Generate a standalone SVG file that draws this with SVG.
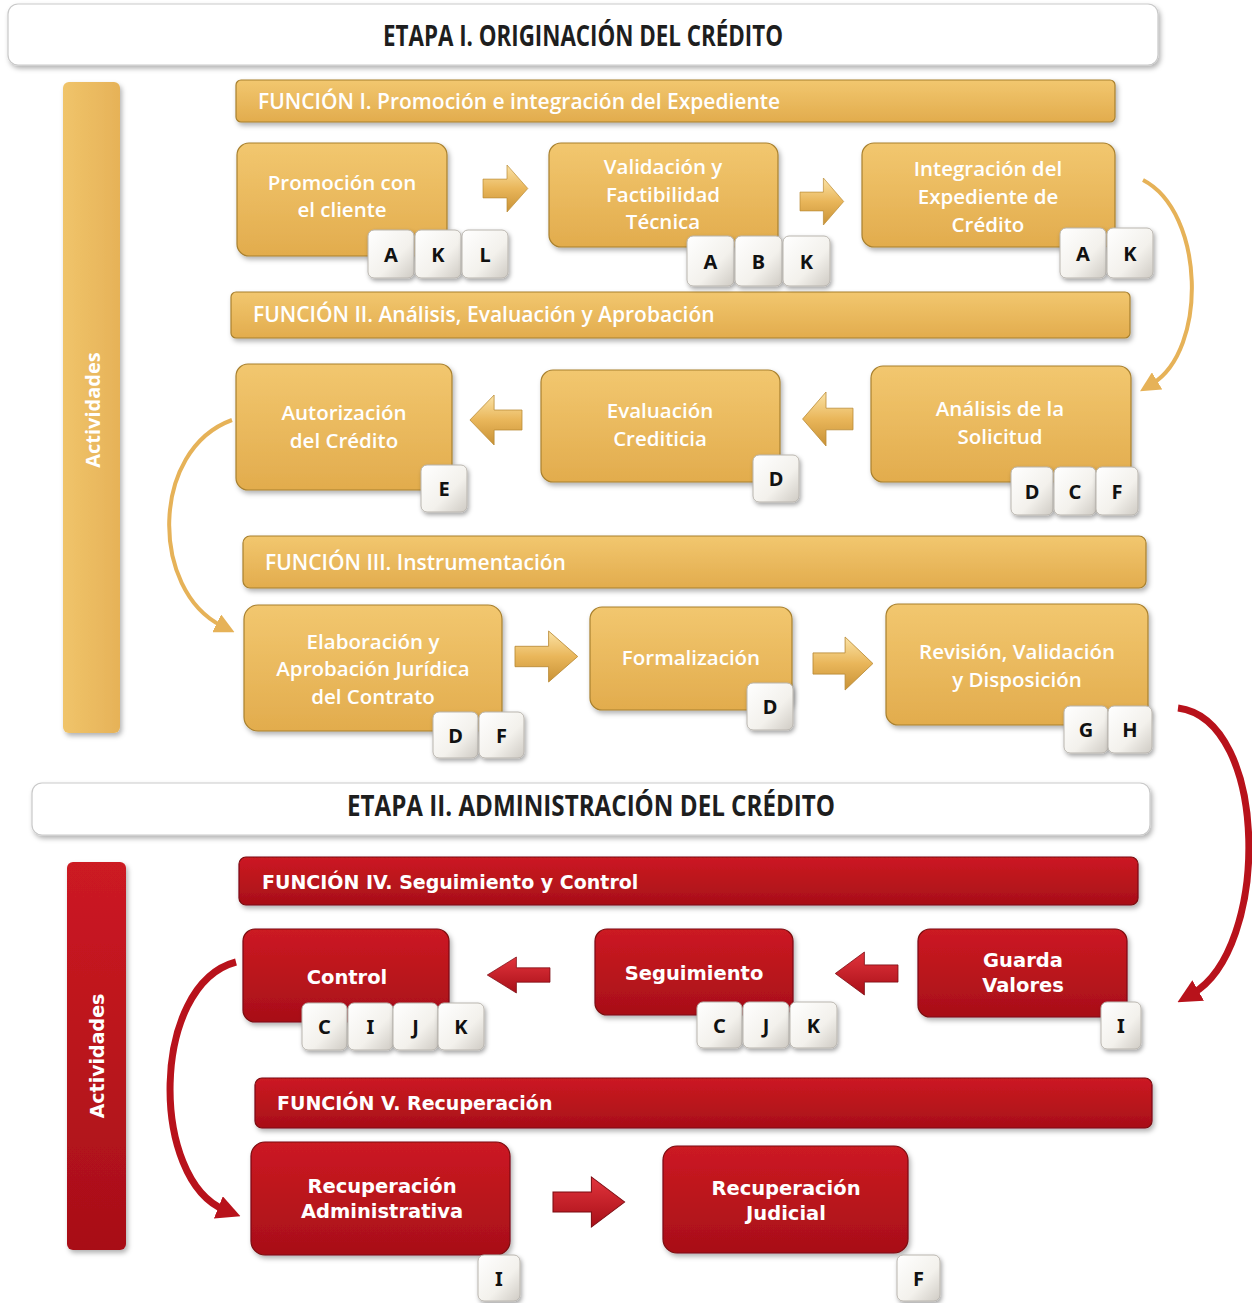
<svg xmlns="http://www.w3.org/2000/svg" width="1252" height="1303" viewBox="0 0 1252 1303">
<defs>
<linearGradient id="gold" x1="0" y1="0" x2="0" y2="1"><stop offset="0" stop-color="#F2C76F"/><stop offset="1" stop-color="#E2AC4D"/></linearGradient>
<linearGradient id="goldV" x1="0" y1="0" x2="1" y2="0"><stop offset="0" stop-color="#F0C46A"/><stop offset="1" stop-color="#E6B258"/></linearGradient>
<linearGradient id="red" x1="0" y1="0" x2="0" y2="1"><stop offset="0" stop-color="#CC1A22"/><stop offset="1" stop-color="#A80F18"/></linearGradient>
<linearGradient id="keyG" x1="0" y1="0" x2="1" y2="1"><stop offset="0" stop-color="#FFFFFF"/><stop offset="0.6" stop-color="#F3F1EC"/><stop offset="1" stop-color="#CFCBC4"/></linearGradient>
<linearGradient id="garr" x1="0" y1="0" x2="0" y2="1"><stop offset="0" stop-color="#FBE3A6"/><stop offset="0.5" stop-color="#E9B65A"/><stop offset="1" stop-color="#C99236"/></linearGradient>
<linearGradient id="rarr" x1="0" y1="0" x2="0" y2="1"><stop offset="0" stop-color="#E2343C"/><stop offset="1" stop-color="#A80F18"/></linearGradient>
<filter id="sh" x="-10%" y="-10%" width="130%" height="140%"><feDropShadow dx="2" dy="3" stdDeviation="2.5" flood-color="#000" flood-opacity="0.3"/></filter>
<filter id="ksh" x="-20%" y="-20%" width="150%" height="150%"><feDropShadow dx="1.5" dy="2.5" stdDeviation="2" flood-color="#000" flood-opacity="0.35"/></filter>
<path id="rarrow" d="M0,15 H30 V0 L56,25 L30,50 V35 H0 Z"/>
<marker id="mg" viewBox="0 0 10 10" refX="3" refY="5" markerWidth="5" markerHeight="5" orient="auto" markerUnits="strokeWidth"><path d="M0,0 L10,5 L0,10 Z" fill="#E6B258"/></marker>
<marker id="mr" viewBox="0 0 10 10" refX="3" refY="5" markerWidth="3.4" markerHeight="3.4" orient="auto" markerUnits="strokeWidth"><path d="M0,0 L10,5 L0,10 Z" fill="#B8121B"/></marker>
</defs>
<style>
.banner{fill:#FFFFFF;stroke:#C9C9C9;stroke-width:1.2}
.etapa{font-family:"Open Sans","Liberation Sans",sans-serif;font-weight:700;font-size:28px;fill:#1E1E1E;text-anchor:middle}
.gnode{fill:url(#gold);stroke:#A8802F;stroke-width:1.2}
.rnode{fill:url(#red);stroke:#7A0A10;stroke-width:1.2}
.gt{font-family:"Open Sans","Liberation Sans",sans-serif;font-weight:600;font-size:20.5px;fill:#FFFFFF;text-anchor:middle}
.rt{font-family:"DejaVu Sans","Noto Sans",sans-serif;font-weight:700;font-size:19.5px;fill:#FFFFFF;text-anchor:middle}
.gf{font-family:"Open Sans","Liberation Sans",sans-serif;font-weight:600;font-size:21px;fill:#FFFFFF}
.rf{font-family:"DejaVu Sans","Noto Sans",sans-serif;font-weight:700;font-size:19px;fill:#FFFFFF}
.key{fill:url(#keyG);stroke:#B9B5AE;stroke-width:1}
.kt{font-family:"Noto Sans","DejaVu Sans",sans-serif;font-weight:700;font-size:20px;fill:#111;text-anchor:middle}
.act{font-family:"Open Sans","Liberation Sans",sans-serif;font-weight:700;font-size:20px;fill:#FFFFFF;text-anchor:middle}
.ga{fill:url(#garr);stroke:#B98A35;stroke-width:0.8}
.ra{fill:url(#rarr);stroke:#7A0A10;stroke-width:0.8}
</style>

<!-- Banners -->
<g id="etapa1">
<rect class="banner" x="8" y="4" width="1150" height="61" rx="10" filter="url(#sh)"/>
<text class="etapa" x="583" y="46" textLength="400" lengthAdjust="spacingAndGlyphs">ETAPA I. ORIGINACIÓN DEL CRÉDITO</text>
</g>
<g id="etapa2">
<rect class="banner" x="32" y="783" width="1118" height="52" rx="10" filter="url(#sh)"/>
<text class="etapa" x="591" y="816" textLength="488" lengthAdjust="spacingAndGlyphs">ETAPA II. ADMINISTRACIÓN DEL CRÉDITO</text>
</g>

<!-- Actividades bars -->
<g id="act1">
<rect x="63" y="82" width="57" height="651" rx="6" fill="url(#goldV)" filter="url(#sh)"/>
<text class="act" transform="translate(100,410) rotate(-90)">Actividades</text>
</g>
<g id="act2">
<rect x="67" y="862" width="59" height="388" rx="6" fill="url(#red)" filter="url(#sh)"/>
<text class="act" style="font-family:'DejaVu Sans',sans-serif;font-size:19px" transform="translate(104,1056) rotate(-90)">Actividades</text>
</g>

<!-- Function bars -->
<g id="f1"><rect class="gnode" x="236" y="80" width="879" height="42" rx="5" filter="url(#sh)"/><text class="gf" x="258" y="109">FUNCIÓN I. Promoción e integración del Expediente</text></g>
<g id="f2"><rect class="gnode" x="231" y="292" width="899" height="46" rx="5" filter="url(#sh)"/><text class="gf" x="253" y="322">FUNCIÓN II. Análisis, Evaluación y Aprobación</text></g>
<g id="f3"><rect class="gnode" x="243" y="536" width="903" height="52" rx="7" filter="url(#sh)"/><text class="gf" x="265" y="570">FUNCIÓN III. Instrumentación</text></g>
<g id="f4"><rect class="rnode" x="239" y="857" width="899" height="48" rx="7" filter="url(#sh)"/><text class="rf" x="262" y="889">FUNCIÓN IV. Seguimiento y Control</text></g>
<g id="f5"><rect class="rnode" x="255" y="1078" width="897" height="50" rx="7" filter="url(#sh)"/><text class="rf" x="277" y="1110">FUNCIÓN V. Recuperación</text></g>

<!-- Connectors -->
<g id="connectors">
<use href="#rarrow" class="ga" transform="translate(483,165) scale(0.8,0.94)"/>
<use href="#rarrow" class="ga" transform="translate(800,178) scale(0.78,0.94)"/>
<use href="#rarrow" class="ga" transform="translate(522,395) scale(-0.93,1)"/>
<use href="#rarrow" class="ga" transform="translate(853,392) scale(-0.9,1.08)"/>
<use href="#rarrow" class="ga" transform="translate(515,631) scale(1.12,1.02)"/>
<use href="#rarrow" class="ga" transform="translate(813,637) scale(1.07,1.06)"/>
<use href="#rarrow" class="ra" transform="translate(550,957) scale(-1.12,0.72)"/>
<use href="#rarrow" class="ra" transform="translate(898,952) scale(-1.12,0.86)"/>
<use href="#rarrow" class="ra" transform="translate(553,1177) scale(1.28,1)"/>
<path d="M1143,180 C1205,212 1208,350 1152,384" fill="none" stroke="#E6B258" stroke-width="4" marker-end="url(#mg)"/>
<path d="M232,420 C150,450 150,590 222,626" fill="none" stroke="#E6B258" stroke-width="4" marker-end="url(#mg)"/>
<path d="M1178,708 C1270,720 1270,950 1192,994" fill="none" stroke="#B8121B" stroke-width="7" marker-end="url(#mr)"/>
<path d="M236,962 C150,985 150,1180 225,1210" fill="none" stroke="#B8121B" stroke-width="7" marker-end="url(#mr)"/>
</g>

<!-- Nodes -->
<g id="promocion">
<rect class="gnode" x="237" y="143" width="210" height="113" rx="12" filter="url(#sh)"/>
<text class="gt" x="342" y="190">Promoción con</text><text class="gt" x="342" y="217">el cliente</text>
<g transform="translate(368,230)"><rect class="key" width="46" height="48" rx="6" filter="url(#ksh)"/><text class="kt" x="23" y="32">A</text></g>
<g transform="translate(415,230)"><rect class="key" width="46" height="48" rx="6" filter="url(#ksh)"/><text class="kt" x="23" y="32">K</text></g>
<g transform="translate(462,230)"><rect class="key" width="46" height="48" rx="6" filter="url(#ksh)"/><text class="kt" x="23" y="32">L</text></g>
</g>
<g id="validacion">
<rect class="gnode" x="549" y="143" width="229" height="104" rx="12" filter="url(#sh)"/>
<text class="gt" x="663" y="174">Validación y</text><text class="gt" x="663" y="202">Factibilidad</text><text class="gt" x="663" y="229">Técnica</text>
<g transform="translate(687,236)"><rect class="key" width="47" height="50" rx="6" filter="url(#ksh)"/><text class="kt" x="23.5" y="33">A</text></g>
<g transform="translate(735,236)"><rect class="key" width="47" height="50" rx="6" filter="url(#ksh)"/><text class="kt" x="23.5" y="33">B</text></g>
<g transform="translate(783,236)"><rect class="key" width="47" height="50" rx="6" filter="url(#ksh)"/><text class="kt" x="23.5" y="33">K</text></g>
</g>
<g id="integracion">
<rect class="gnode" x="862" y="143" width="253" height="104" rx="12" filter="url(#sh)"/>
<text class="gt" x="988" y="176">Integración del</text><text class="gt" x="988" y="204">Expediente de</text><text class="gt" x="988" y="232">Crédito</text>
<g transform="translate(1060,228)"><rect class="key" width="46" height="50" rx="6" filter="url(#ksh)"/><text class="kt" x="23" y="33">A</text></g>
<g transform="translate(1107,228)"><rect class="key" width="46" height="50" rx="6" filter="url(#ksh)"/><text class="kt" x="23" y="33">K</text></g>
</g>
<g id="autorizacion">
<rect class="gnode" x="236" y="364" width="216" height="126" rx="12" filter="url(#sh)"/>
<text class="gt" x="344" y="420">Autorización</text><text class="gt" x="344" y="448">del Crédito</text>
<g transform="translate(421,465)"><rect class="key" width="46" height="47" rx="6" filter="url(#ksh)"/><text class="kt" x="23" y="31">E</text></g>
</g>
<g id="evaluacion">
<rect class="gnode" x="541" y="370" width="239" height="112" rx="12" filter="url(#sh)"/>
<text class="gt" x="660" y="418">Evaluación</text><text class="gt" x="660" y="446">Crediticia</text>
<g transform="translate(753,455)"><rect class="key" width="46" height="47" rx="6" filter="url(#ksh)"/><text class="kt" x="23" y="31">D</text></g>
</g>
<g id="analisis">
<rect class="gnode" x="871" y="366" width="260" height="116" rx="12" filter="url(#sh)"/>
<text class="gt" x="1000" y="416">Análisis de la</text><text class="gt" x="1000" y="444">Solicitud</text>
<g transform="translate(1011,467)"><rect class="key" width="42" height="48" rx="6" filter="url(#ksh)"/><text class="kt" x="21" y="32">D</text></g>
<g transform="translate(1054,467)"><rect class="key" width="42" height="48" rx="6" filter="url(#ksh)"/><text class="kt" x="21" y="32">C</text></g>
<g transform="translate(1096,467)"><rect class="key" width="42" height="48" rx="6" filter="url(#ksh)"/><text class="kt" x="21" y="32">F</text></g>
</g>
<g id="elaboracion">
<rect class="gnode" x="244" y="605" width="258" height="126" rx="14" filter="url(#sh)"/>
<text class="gt" x="373" y="649">Elaboración y</text><text class="gt" x="373" y="676">Aprobación Jurídica</text><text class="gt" x="373" y="704">del Contrato</text>
<g transform="translate(433,712)"><rect class="key" width="45" height="46" rx="6" filter="url(#ksh)"/><text class="kt" x="22.5" y="31">D</text></g>
<g transform="translate(479,712)"><rect class="key" width="45" height="46" rx="6" filter="url(#ksh)"/><text class="kt" x="22.5" y="31">F</text></g>
</g>
<g id="formalizacion">
<rect class="gnode" x="590" y="607" width="202" height="103" rx="12" filter="url(#sh)"/>
<text class="gt" x="691" y="665">Formalización</text>
<g transform="translate(747,683)"><rect class="key" width="46" height="47" rx="6" filter="url(#ksh)"/><text class="kt" x="23" y="31">D</text></g>
</g>
<g id="revision">
<rect class="gnode" x="886" y="604" width="262" height="121" rx="12" filter="url(#sh)"/>
<text class="gt" x="1017" y="659">Revisión, Validación</text><text class="gt" x="1017" y="687">y Disposición</text>
<g transform="translate(1064,706)"><rect class="key" width="44" height="47" rx="6" filter="url(#ksh)"/><text class="kt" x="22" y="31">G</text></g>
<g transform="translate(1108,706)"><rect class="key" width="44" height="47" rx="6" filter="url(#ksh)"/><text class="kt" x="22" y="31">H</text></g>
</g>
<g id="control">
<rect class="rnode" x="243" y="929" width="206" height="93" rx="12" filter="url(#sh)"/>
<text class="rt" x="347" y="984">Control</text>
<g transform="translate(302,1003)"><rect class="key" width="45" height="47" rx="6" filter="url(#ksh)"/><text class="kt" x="22.5" y="31">C</text></g>
<g transform="translate(348,1003)"><rect class="key" width="45" height="47" rx="6" filter="url(#ksh)"/><text class="kt" x="22.5" y="31">I</text></g>
<g transform="translate(393,1003)"><rect class="key" width="45" height="47" rx="6" filter="url(#ksh)"/><text class="kt" x="22.5" y="31">J</text></g>
<g transform="translate(438,1003)"><rect class="key" width="46" height="47" rx="6" filter="url(#ksh)"/><text class="kt" x="23" y="31">K</text></g>
</g>
<g id="seguimiento">
<rect class="rnode" x="595" y="929" width="198" height="86" rx="12" filter="url(#sh)"/>
<text class="rt" x="694" y="980">Seguimiento</text>
<g transform="translate(697,1002)"><rect class="key" width="45" height="46" rx="6" filter="url(#ksh)"/><text class="kt" x="22.5" y="31">C</text></g>
<g transform="translate(743,1002)"><rect class="key" width="46" height="46" rx="6" filter="url(#ksh)"/><text class="kt" x="23" y="31">J</text></g>
<g transform="translate(790,1002)"><rect class="key" width="47" height="46" rx="6" filter="url(#ksh)"/><text class="kt" x="23.5" y="31">K</text></g>
</g>
<g id="guarda">
<rect class="rnode" x="918" y="929" width="209" height="88" rx="12" filter="url(#sh)"/>
<text class="rt" x="1023" y="967">Guarda</text><text class="rt" x="1023" y="992">Valores</text>
<g transform="translate(1101,1002)"><rect class="key" width="40" height="47" rx="6" filter="url(#ksh)"/><text class="kt" x="20" y="31">I</text></g>
</g>
<g id="recadmin">
<rect class="rnode" x="251" y="1142" width="259" height="113" rx="14" filter="url(#sh)"/>
<text class="rt" x="382" y="1193">Recuperación</text><text class="rt" x="382" y="1218">Administrativa</text>
<g transform="translate(478,1255)"><rect class="key" width="42" height="46" rx="6" filter="url(#ksh)"/><text class="kt" x="21" y="31">I</text></g>
</g>
<g id="recjud">
<rect class="rnode" x="663" y="1146" width="245" height="107" rx="14" filter="url(#sh)"/>
<text class="rt" x="786" y="1195">Recuperación</text><text class="rt" x="786" y="1220">Judicial</text>
<g transform="translate(897,1255)"><rect class="key" width="43" height="46" rx="6" filter="url(#ksh)"/><text class="kt" x="21.5" y="31">F</text></g>
</g>
</svg>
